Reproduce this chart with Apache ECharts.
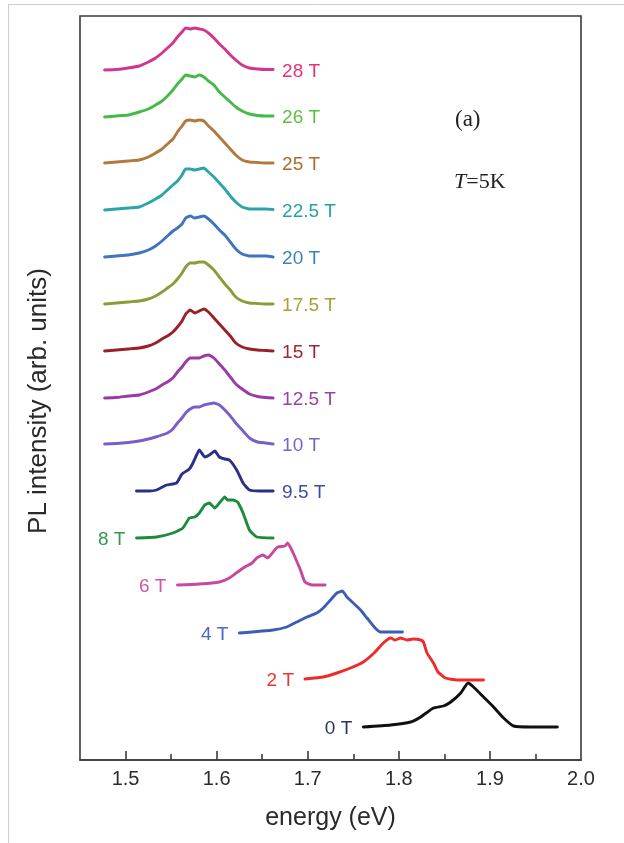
<!DOCTYPE html>
<html>
<head>
<meta charset="utf-8">
<script src="https://cdn.jsdelivr.net/npm/echarts@6/dist/echarts.min.js"></script>
<style>
  html, body { margin: 0; padding: 0; background: #fff; }
  #chart { width: 624px; height: 843px; }
</style>
</head>
<body>
<div id="chart"></div>
<script>
// PL spectra at T = 5 K for magnetic fields 0 T ... 28 T, stacked with a vertical offset.

const fieldNames = ['0 T', '2 T', '4 T', '6 T', '8 T', '9.5 T', '10 T', '12.5 T', '15 T', '17.5 T', '20 T', '22.5 T', '25 T', '26 T', '28 T'];
// vertical offset of each spectrum (arb. units)
const baselineOffsets = [33, 80, 127, 175, 222, 269, 316, 362, 409, 456, 503, 550, 597, 643, 690];

// energy grid (eV) shared by the 10 T ... 28 T spectra
const highFieldEnergy = [1.477, 1.490, 1.503, 1.515, 1.525, 1.533, 1.540, 1.546, 1.552, 1.557, 1.562, 1.566, 1.571, 1.576, 1.581, 1.586, 1.591, 1.597, 1.603, 1.609, 1.615, 1.621, 1.628, 1.636, 1.645, 1.654, 1.662];
const int10  = [0, 0.5, 1.5, 3, 5, 7, 9, 11, 15, 21, 26, 31, 35, 37, 37, 39, 40, 41, 39, 34, 28, 21, 14, 6, 2, 1, 0];
const int125 = [0, 0.5, 2, 3, 6, 9, 13, 16, 20, 26, 31, 36, 40, 40, 40, 42, 43, 40, 34, 28, 21, 14, 9, 4, 1.5, 0.5, 0];
const int15  = [0, 1, 2, 3, 5, 8, 12, 15, 19, 24, 30, 37, 41, 38, 40, 42, 39, 33, 27, 21, 15, 8, 4, 2, 1, 0.5, 0];
const int175 = [0, 1, 2, 3, 5, 8, 12, 16, 20, 25, 31, 37, 41, 41, 42, 42, 39, 34, 27, 20, 14, 7, 3, 1, 0.5, 0, 0];
const int20  = [0, 1, 2, 4, 7, 11, 16, 21, 26, 29, 33, 39, 41, 39, 40, 41, 38, 33, 27, 22, 15, 8, 3, 1, 1, 1, 0];
const int225 = [0, 1, 2, 3, 7, 11, 15, 20, 25, 29, 35, 41, 41, 40, 41, 42, 38, 33, 27, 21, 14, 8, 3, 1, 1, 1, 0.5];
const int25  = [0, 1, 2, 3, 6, 10, 14, 19, 24, 31, 37, 42, 43, 42, 43, 42, 37, 32, 26, 20, 14, 8, 3, 1, 0.5, 0, 0];
const int26  = [0, 1, 2, 5, 8, 12, 16, 21, 27, 33, 38, 42, 41, 40, 42, 40, 36, 32, 25, 20, 15, 10, 6, 3, 1.5, 1, 1];
const int28  = [0, 0.5, 2, 4, 8, 12, 17, 22, 27, 33, 38, 42, 41, 42, 41, 40, 37, 32, 26, 21, 15, 10, 5, 2, 1, 0.5, 0.5];

// low-field spectra, each on its own energy grid
const energy95 = [1.512, 1.526, 1.534, 1.545, 1.556, 1.562, 1.570, 1.574, 1.578, 1.581, 1.587, 1.592, 1.598, 1.603, 1.609, 1.614, 1.622, 1.629, 1.636, 1.647, 1.662];
const int95    = [0, 0, 1, 6, 8, 17, 22, 28, 36, 41, 34, 36, 40, 34, 32, 31, 21, 8, 1, 0, 0];
const energy8  = [1.512, 1.534, 1.552, 1.563, 1.570, 1.576, 1.581, 1.587, 1.592, 1.598, 1.603, 1.609, 1.612, 1.618, 1.623, 1.629, 1.636, 1.644, 1.662];
const int8     = [0, 1, 5, 10, 20, 21, 25, 33, 35, 30, 35, 41, 38, 38, 36, 25, 8, 1, 0];
const energy6  = [1.557, 1.581, 1.603, 1.614, 1.623, 1.631, 1.639, 1.644, 1.651, 1.656, 1.662, 1.667, 1.675, 1.678, 1.684, 1.692, 1.697, 1.705, 1.719];
const int6     = [0, 1, 3, 7, 13, 18, 22, 27, 30, 27, 33, 38, 39, 42, 32, 15, 3, 0, 0];
const energy4  = [1.625, 1.662, 1.677, 1.688, 1.699, 1.710, 1.717, 1.725, 1.732, 1.738, 1.743, 1.750, 1.758, 1.765, 1.774, 1.780, 1.804];
const int4     = [0, 3, 6, 11, 16, 20, 25, 33, 40, 42, 36, 30, 23, 15, 5, 1, 1];
const energy2  = [1.697, 1.717, 1.732, 1.747, 1.761, 1.774, 1.783, 1.791, 1.796, 1.802, 1.809, 1.816, 1.824, 1.827, 1.831, 1.838, 1.843, 1.851, 1.864, 1.893];
const int2     = [1, 3, 7, 12, 18, 28, 37, 42, 40, 42, 40, 41, 40, 38, 27, 17, 8, 2, 0, 0];
const energy0  = [1.761, 1.791, 1.813, 1.824, 1.838, 1.849, 1.857, 1.868, 1.876, 1.882, 1.893, 1.904, 1.915, 1.926, 1.945, 1.974];
const int0     = [0, 2, 5, 10, 19, 21, 25, 34, 44, 40, 30, 20, 9, 1, 0, 0];

// x-axis tick values
const majorTicks = [1.5, 1.6, 1.7, 1.8, 1.9];
const minorTicks = [1.55, 1.65, 1.75, 1.85, 1.95];

const spectra = [
  [energy0, int0], [energy2, int2], [energy4, int4], [energy6, int6], [energy8, int8], [energy95, int95],
  [highFieldEnergy, int10], [highFieldEnergy, int125], [highFieldEnergy, int15], [highFieldEnergy, int175],
  [highFieldEnergy, int20], [highFieldEnergy, int225], [highFieldEnergy, int25], [highFieldEnergy, int26], [highFieldEnergy, int28]
];

const lineColors  = ['#111111', '#ee2b2b', '#3d5db5', '#c8479f', '#1f8a3c', '#2b2f85', '#7a5ec8', '#9a3aa5', '#9b1f28', '#8f9a3a', '#3f74c0', '#2aa5a8', '#b07a3c', '#46b948', '#d2358f'];
const labelColors = ['#27375f', '#f03535', '#4a68c0', '#d0589f', '#2f9a4a', '#3c4aa8', '#7a62cc', '#9a40a8', '#a02634', '#a8a035', '#3a84b4', '#26a0a8', '#a86c30', '#5cc040', '#e6307e'];
// label side: left of the spectrum for the low fields, right of it otherwise
const labelLeft = [true, true, true, true, true, false, false, false, false, false, false, false, false, false, false];

const sansFont = 'Liberation Sans, Arial, sans-serif';

const series = spectra.map(([en, inten], i) => {
  const off = baselineOffsets[i];
  const data = en.map((e, k) => [e, off + inten[k]]);
  const left = labelLeft[i];
  const anchor = left ? [en[0], off + inten[0]] : [en[en.length - 1], off + inten[inten.length - 1]];
  return {
    type: 'line',
    name: fieldNames[i],
    data: data,
    showSymbol: false,
    smooth: 0.15,
    silent: true,
    lineStyle: { color: lineColors[i], width: 2.9, join: 'round', cap: 'round' },
    markPoint: {
      symbol: 'circle',
      symbolSize: 0,
      silent: true,
      data: [{
        coord: anchor,
        label: {
          show: true,
          formatter: fieldNames[i],
          position: left ? 'left' : 'right',
          distance: left ? 11 : 9,
          offset: [0, 2],
          color: labelColors[i],
          fontFamily: sansFont,
          fontSize: 19
        }
      }]
    }
  };
});

const chart = echarts.init(document.getElementById('chart'), null, { renderer: 'canvas' });
chart.setOption({
  animation: false,
  backgroundColor: '#ffffff',
  grid: { left: 80, right: 43, top: 16, bottom: 83, show: true, borderColor: '#3a3a3a', borderWidth: 1.6, backgroundColor: 'transparent' },
  xAxis: [
    {
      type: 'value', min: 1.45, max: 2.0, interval: 0.05,
      name: 'energy (eV)', nameLocation: 'middle', nameGap: 46,
      nameTextStyle: { fontFamily: sansFont, fontSize: 25, color: '#2a2a2a' },
      axisLine: { show: true, lineStyle: { color: '#3a3a3a', width: 1.6 } },
      axisTick: { show: true, inside: true, length: 9, customValues: majorTicks, lineStyle: { color: '#3a3a3a', width: 1.6 } },
      axisLabel: {
        show: true, margin: 9, showMinLabel: false, showMaxLabel: true,
        fontFamily: sansFont, fontSize: 20, color: '#2a2a2a',
        formatter: v => (Math.round(v * 20) % 2 === 0 ? v.toFixed(1) : '')
      },
      splitLine: { show: false }
    },
    {
      type: 'value', min: 1.45, max: 2.0, interval: 0.05, position: 'bottom',
      axisLine: { show: false },
      axisTick: { show: true, inside: true, length: 6, customValues: minorTicks, lineStyle: { color: '#3a3a3a', width: 1.6 } },
      axisLabel: { show: false },
      splitLine: { show: false }
    }
  ],
  yAxis: {
    type: 'value', min: 0, max: 744,
    axisLine: { show: false }, axisTick: { show: false }, axisLabel: { show: false }, splitLine: { show: false }
  },
  graphic: [
    { type: 'rect', silent: true, z: -10, shape: { x: 8.5, y: 4.5, width: 700, height: 900 }, style: { fill: 'none', stroke: '#cdcdcd', lineWidth: 1 } },
    { type: 'text', silent: true, x: 39, y: 401, rotation: Math.PI / 2,
      style: { text: 'PL intensity (arb. units)', font: '26px "Liberation Sans", Arial, sans-serif', fill: '#2a2a2a', align: 'center', verticalAlign: 'middle' } },
    { type: 'text', silent: true, left: 455, top: 108, style: { text: '(a)', font: '23px "Liberation Serif", "Times New Roman", serif', fill: '#222' } },
    { type: 'text', silent: true, left: 454, top: 171, style: {
        text: '{i|T}{n|=5K}',
        rich: {
          i: { font: 'italic 22px "Liberation Serif", "Times New Roman", serif', fill: '#222' },
          n: { font: '22px "Liberation Serif", "Times New Roman", serif', fill: '#222' }
        }
      } }
  ],
  series: series
});
</script>
</body>
</html>
